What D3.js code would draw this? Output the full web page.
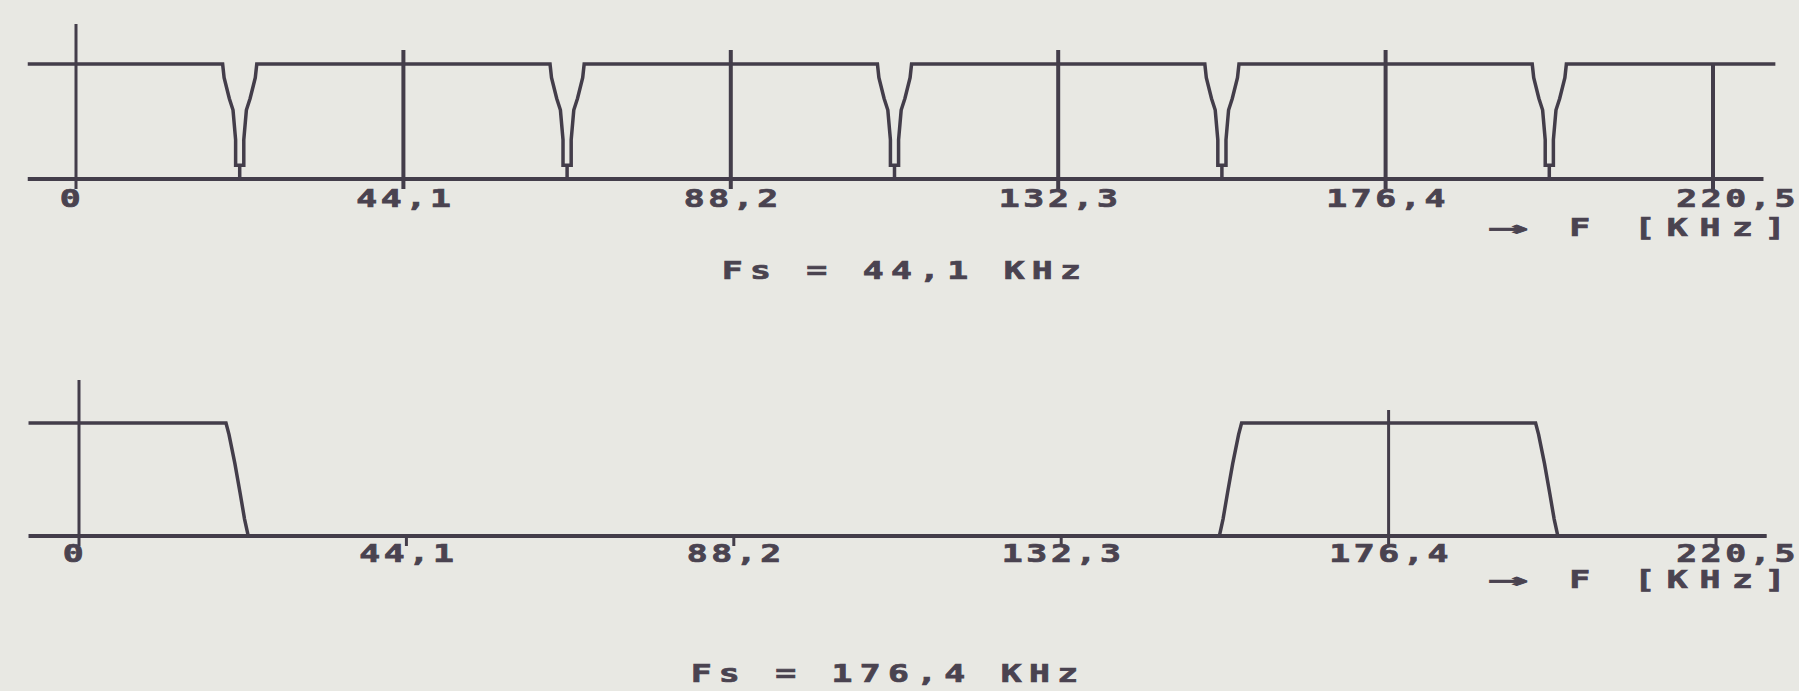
<!DOCTYPE html>
<html>
<head>
<meta charset="utf-8">
<script src="https://cdn.jsdelivr.net/npm/d3@7"></script>
<style>
  html, body { margin: 0; padding: 0; background: #e8e8e3; }
  svg { display: block; }
  text { font-family: "DejaVu Sans Mono", monospace; font-weight: bold; fill: #4a4350; stroke: #4a4350; stroke-width: 0.7px; }
</style>
</head>
<body>
<svg id="chart" width="1799" height="691"></svg>
<script>
// ---------- data ----------
const tickValues = [0, 44.1, 88.2, 132.3, 176.4, 220.5];
const tickLabels = ["0", "44,1", "88,2", "132,3", "176,4", "220,5"];
const axisArrow = "\u2192";
const axisLabel = "F [KHz]";
const titleTop = "Fs = 44,1 KHz";
const titleBottom = "Fs = 176,4 KHz";

// top panel (Fs = 44.1 kHz): notches between images at odd multiples of 22.05 kHz
const notchCenters = [22.05, 66.15, 110.25, 154.35, 198.45];
const notchOffsets = [-2.3, -2.1, -1.4, -0.9, -0.55, -0.55, 0, 0, 0, 0.55, 0.55, 0.9, 1.4, 2.1, 2.3];
const notchLevels  = [1, 0.88, 0.7, 0.6, 0.34, 0.12, 0.12, 0, 0.12, 0.12, 0.34, 0.6, 0.7, 0.88, 1];
const topLineRange = [-6.5, 228.9];   // kHz extent of the response line
const topBaseRange = [-6.5, 227.3];   // kHz extent of the baseline

// bottom panel (Fs = 176.4 kHz): baseband and first image
const bandCenters = [0, 176.4];
const edgeOffsets = [19.8, 20.2, 21.0, 21.7, 22.3, 22.8];
const edgeLevels  = [1, 0.9, 0.64, 0.38, 0.15, 0];
const bottomLineRange = [-6.8, 227.3];

// ---------- layout ----------
const color = "#433d4a";
const svg = d3.select("#chart");

const xTop = d3.scaleLinear().domain([0, 220.5]).range([76, 1713]);
const yTop = d3.scaleLinear().domain([0, 1]).range([179, 64]);
const xBot = d3.scaleLinear().domain([0, 220.5]).range([79, 1716]);
const yBot = d3.scaleLinear().domain([0, 1]).range([536, 423]);

const line = (xs, ys) => d3.line().x(d => xs(d[0])).y(d => ys(d[1])).curve(d3.curveLinear);

// wide "plotter" text: font scaled horizontally
function label(g, x, y, str, anchor, spacing, sx = 1.45) {
  g.append("g").attr("transform", `translate(${x},${y}) scale(${sx},1)`)
    .append("text").attr("x", 0).attr("y", 0)
    .attr("text-anchor", anchor)
    .attr("font-size", 24)
    .attr("letter-spacing", spacing)
    .text(str);
}
function axisName(g, y) {
  label(g, 1797, y, axisLabel, "end", 8);
  label(g, 1528, y, axisArrow, "end", 0, 2.8);
}

// ===== TOP PANEL =====
const gTop = svg.append("g");
gTop.append("path")
  .attr("d", line(xTop, yTop)([[topBaseRange[0], 0], [topBaseRange[1], 0]]))
  .attr("stroke", color).attr("stroke-width", 4).attr("fill", "none");
gTop.selectAll("line.tick").data(tickValues).join("line")
  .attr("x1", d => xTop(d)).attr("x2", d => xTop(d))
  .attr("y1", (d, i) => i === 0 ? 24 : (i === tickValues.length - 1 ? yTop(1) : 50))
  .attr("y2", (d, i) => i === tickValues.length - 1 ? 192 : 189)
  .attr("stroke", color).attr("stroke-width", (d, i) => i === 0 ? 3 : 4);
const topPts = [[topLineRange[0], 1]];
notchCenters.forEach(c => notchOffsets.forEach((o, i) => topPts.push([c + o, notchLevels[i]])));
topPts.push([topLineRange[1], 1]);
gTop.append("path")
  .attr("d", line(xTop, yTop)(topPts))
  .attr("stroke", color).attr("stroke-width", 3.5).attr("fill", "none")
  .attr("stroke-linejoin", "miter");
tickValues.forEach((d, i) => {
  const last = i === tickValues.length - 1;
  label(gTop, last ? 1799 : xTop(d) + (i === 0 ? -4 : 2), 207, tickLabels[i], last ? "end" : "middle", 2.5);
});
axisName(gTop, 236);
label(gTop, 905, 279, titleTop, "middle", 5);

// ===== BOTTOM PANEL =====
const gBot = svg.append("g");
gBot.append("path")
  .attr("d", line(xBot, yBot)([[bottomLineRange[0], 0], [bottomLineRange[1], 0]]))
  .attr("stroke", color).attr("stroke-width", 4).attr("fill", "none");
gBot.selectAll("line.tick").data(tickValues).join("line")
  .attr("x1", d => xBot(d)).attr("x2", d => xBot(d))
  .attr("y1", d => d === 0 ? 380 : (d === 176.4 ? 410 : yBot(0)))
  .attr("y2", 546)
  .attr("stroke", color).attr("stroke-width", 3);
const botPts = [[bottomLineRange[0], 1]];
bandCenters.forEach(c => {
  if (c !== 0) edgeOffsets.slice().reverse().forEach((o, i) => botPts.push([c - o, edgeLevels[edgeLevels.length - 1 - i]]));
  edgeOffsets.forEach((o, i) => botPts.push([c + o, edgeLevels[i]]));
});
botPts.push([bottomLineRange[1], 0]);
gBot.append("path")
  .attr("d", line(xBot, yBot)(botPts))
  .attr("stroke", color).attr("stroke-width", 3.5).attr("fill", "none");
tickValues.forEach((d, i) => {
  const last = i === tickValues.length - 1;
  label(gBot, last ? 1799 : xBot(d) + (i === 0 ? -4 : 2), 562, tickLabels[i], last ? "end" : "middle", 2.5);
});
axisName(gBot, 588);
label(gBot, 888, 682, titleBottom, "middle", 5);
</script>
</body>
</html>
